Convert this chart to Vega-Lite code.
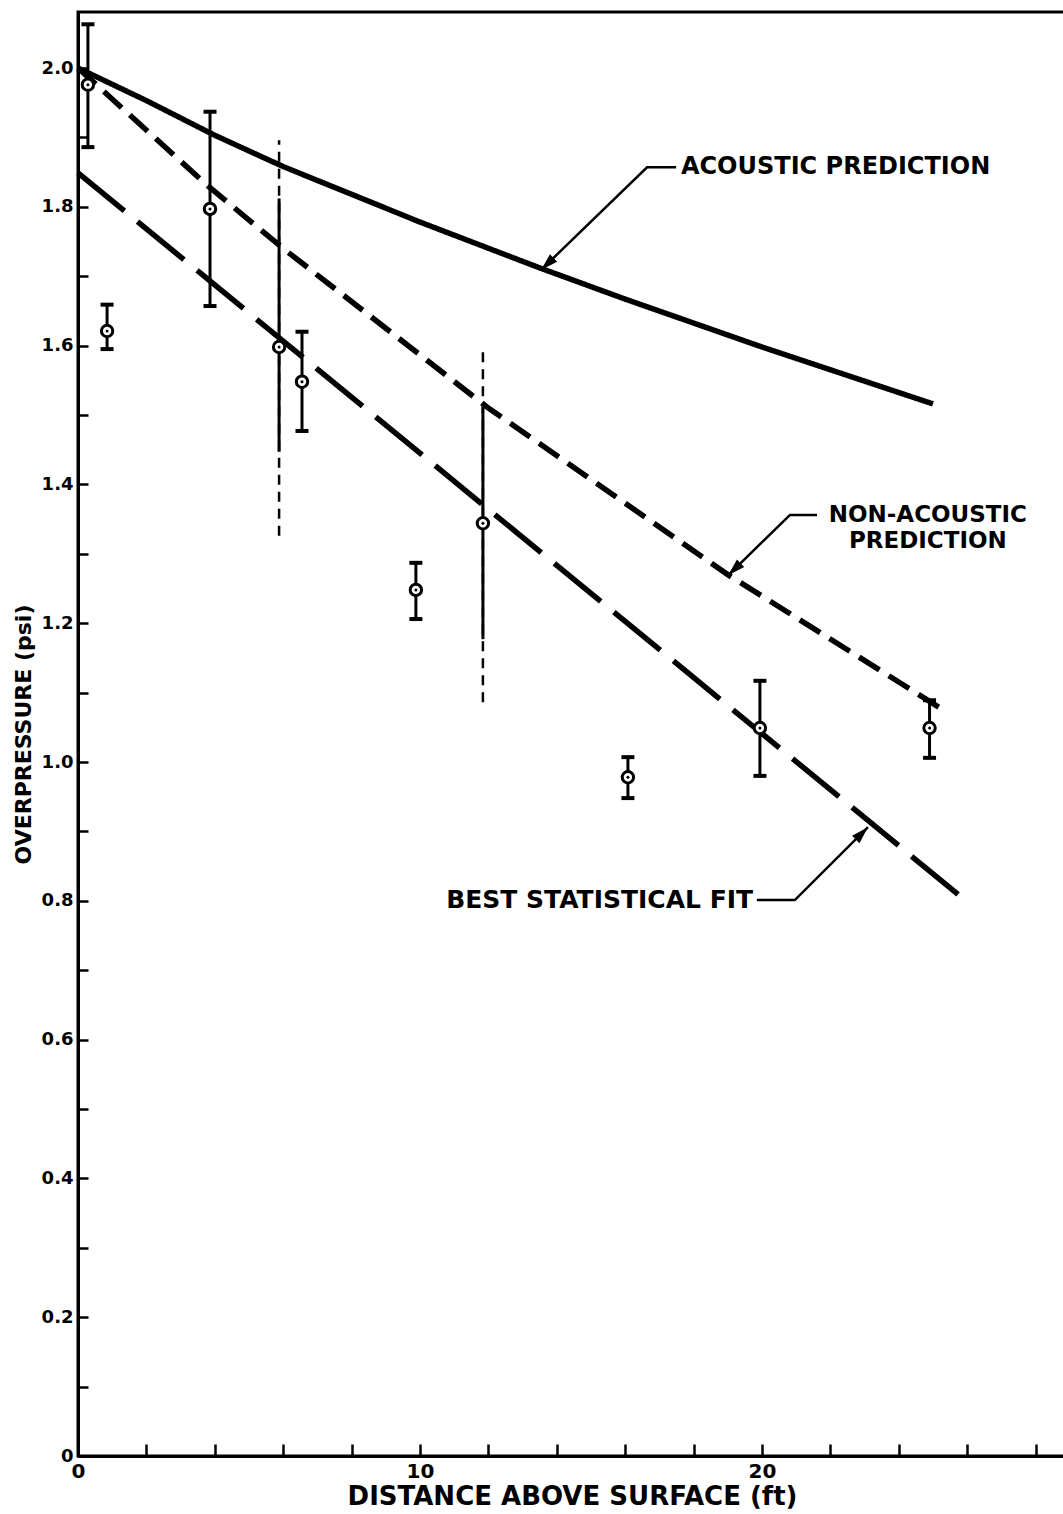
{
  "$schema": "https://vega.github.io/schema/vega-lite/v6.json",
  "width": 988,
  "height": 1444,
  "autosize": {"type": "none"},
  "padding": {"left": 78, "top": 12, "right": 0, "bottom": 58},
  "background": "white",
  "datasets": {
    "curves": [
      {"series": "acoustic", "x": 0, "y": 2.0},
      {"series": "acoustic", "x": 2, "y": 1.953},
      {"series": "acoustic", "x": 4, "y": 1.903},
      {"series": "acoustic", "x": 6, "y": 1.858},
      {"series": "acoustic", "x": 8, "y": 1.818},
      {"series": "acoustic", "x": 10, "y": 1.778},
      {"series": "acoustic", "x": 13.5, "y": 1.712},
      {"series": "acoustic", "x": 16, "y": 1.667},
      {"series": "acoustic", "x": 20, "y": 1.598},
      {"series": "acoustic", "x": 25, "y": 1.516},
      {"series": "non-acoustic", "x": 0, "y": 2.0},
      {"series": "non-acoustic", "x": 3.8, "y": 1.83},
      {"series": "non-acoustic", "x": 6, "y": 1.74},
      {"series": "non-acoustic", "x": 12, "y": 1.51},
      {"series": "non-acoustic", "x": 19, "y": 1.27},
      {"series": "non-acoustic", "x": 25.3, "y": 1.075},
      {"series": "best fit", "x": 0, "y": 1.849},
      {"series": "best fit", "x": 25.94, "y": 0.801}
    ],
    "obs": [
      {"x": 0.29, "y": 1.976, "lo": 1.886, "hi": 2.063},
      {"x": 0.85, "y": 1.621, "lo": 1.595, "hi": 1.659},
      {"x": 3.86, "y": 1.797, "lo": 1.657, "hi": 1.937},
      {"x": 5.88, "y": 1.598, "lo": 1.447, "hi": 1.812, "lo2": 1.326, "hi2": 1.896},
      {"x": 6.55, "y": 1.548, "lo": 1.477, "hi": 1.62},
      {"x": 9.88, "y": 1.248, "lo": 1.206, "hi": 1.287},
      {"x": 11.84, "y": 1.344, "lo": 1.177, "hi": 1.512, "lo2": 1.086, "hi2": 1.6},
      {"x": 16.08, "y": 0.978, "lo": 0.948, "hi": 1.007},
      {"x": 19.94, "y": 1.049, "lo": 0.98, "hi": 1.117},
      {"x": 24.9, "y": 1.049, "lo": 1.006, "hi": 1.089}
    ],
    "leaders": [
      {"note": "acoustic", "seq": 1, "x": 17.49, "y": 1.857},
      {"note": "acoustic", "seq": 2, "x": 16.64, "y": 1.857},
      {"note": "acoustic", "seq": 3, "x": 13.54, "y": 1.709},
      {"note": "nonacoustic", "seq": 1, "x": 21.61, "y": 1.356},
      {"note": "nonacoustic", "seq": 2, "x": 20.82, "y": 1.356},
      {"note": "nonacoustic", "seq": 3, "x": 19.01, "y": 1.269},
      {"note": "bestfit", "seq": 1, "x": 19.85, "y": 0.801},
      {"note": "bestfit", "seq": 2, "x": 20.96, "y": 0.801},
      {"note": "bestfit", "seq": 3, "x": 23.1, "y": 0.906}
    ],
    "notes": [
      {"note": "acoustic", "text": "ACOUSTIC PREDICTION", "x": 17.63, "y": 1.857},
      {"note": "nonacoustic", "text": "NON-ACOUSTIC", "x": 24.85, "y": 1.356},
      {"note": "nonacoustic", "text": "PREDICTION", "x": 24.85, "y": 1.318},
      {"note": "bestfit", "text": "BEST STATISTICAL FIT", "x": 19.74, "y": 0.801}
    ]
  },
  "layer": [
    {
      "data": {"name": "curves"},
      "mark": {"type": "line", "color": "black", "strokeWidth": 5.5, "strokeCap": "butt"},
      "encoding": {
        "x": {
          "field": "x", "type": "quantitative",
          "scale": {"domain": [0, 28.89], "nice": false, "zero": false},
          "axis": {
            "title": "DISTANCE ABOVE SURFACE (ft)",
            "values": [0, 2, 4, 6, 8, 10, 12, 14, 16, 18, 20, 22, 24, 26, 28],
            "format": "d",
            "labelExpr": "datum.value % 10 == 0 ? datum.label : ''",
            "labelFont": "DejaVu Sans",
            "labelFontWeight": "bold",
            "labelFontSize": 20,
            "tickSize": -12,
            "labelPadding": 17,
            "titleFont": "DejaVu Sans",
            "titleFontWeight": "bold",
            "titleFontSize": 26,
            "titlePadding": 2
          }
        },
        "y": {
          "field": "y", "type": "quantitative",
          "scale": {"domain": [0, 2.0807], "nice": false, "zero": false},
          "axis": {
            "title": "OVERPRESSURE (psi)",
            "values": [0, 0.1, 0.2, 0.3, 0.4, 0.5, 0.6, 0.7, 0.8, 0.9, 1.0, 1.1, 1.2, 1.3, 1.4, 1.5, 1.6, 1.7, 1.8, 1.9, 2.0],
            "labelExpr": "datum.value == 0 ? '0' : (round(datum.value * 10) % 2 == 0 ? format(datum.value, '.1f') : '')",
            "labelFont": "DejaVu Sans",
            "labelFontWeight": "bold",
            "labelFontSize": 18,
            "tickSize": -10,
            "labelPadding": 15,
            "titleFont": "DejaVu Sans",
            "titleFontWeight": "bold",
            "titleFontSize": 22,
            "titlePadding": 6
          }
        },
        "detail": {"field": "series"},
        "order": {"field": "x"},
        "strokeDash": {
          "field": "series", "type": "nominal",
          "scale": {"domain": ["acoustic", "non-acoustic", "best fit"], "range": [[1, 0], [24, 11], [60, 17]]},
          "legend": null
        }
      }
    },
    {
      "data": {"name": "leaders"},
      "mark": {"type": "line", "color": "black", "strokeWidth": 2.5},
      "encoding": {
        "x": {"field": "x", "type": "quantitative", "scale": {"domain": [0, 28.89], "nice": false, "zero": false}},
        "y": {"field": "y", "type": "quantitative", "scale": {"domain": [0, 2.0807], "nice": false, "zero": false}},
        "detail": {"field": "note"},
        "order": {"field": "seq"}
      }
    },
    {
      "data": {"name": "leaders"},
      "transform": [{"filter": "datum.seq == 3 && datum.note != 'bestfit'"}],
      "mark": {"type": "point", "shape": "M0,0L0.6,2L-0.6,2Z", "size": 300, "filled": true, "color": "black", "opacity": 1, "angle": 226},
      "encoding": {
        "x": {"field": "x", "type": "quantitative", "scale": {"domain": [0, 28.89], "nice": false, "zero": false}},
        "y": {"field": "y", "type": "quantitative", "scale": {"domain": [0, 2.0807], "nice": false, "zero": false}}
      }
    },
    {
      "data": {"name": "leaders"},
      "transform": [{"filter": "datum.seq == 3 && datum.note == 'bestfit'"}],
      "mark": {"type": "point", "shape": "M0,0L0.6,2L-0.6,2Z", "size": 300, "filled": true, "color": "black", "opacity": 1, "angle": 45},
      "encoding": {
        "x": {"field": "x", "type": "quantitative", "scale": {"domain": [0, 28.89], "nice": false, "zero": false}},
        "y": {"field": "y", "type": "quantitative", "scale": {"domain": [0, 2.0807], "nice": false, "zero": false}}
      }
    },
    {
      "data": {"name": "notes"},
      "transform": [{"filter": "datum.note == 'acoustic'"}],
      "mark": {"type": "text", "align": "left", "baseline": "middle", "font": "DejaVu Sans", "fontWeight": "bold", "fontSize": 24, "color": "black"},
      "encoding": {
        "x": {"field": "x", "type": "quantitative", "scale": {"domain": [0, 28.89], "nice": false, "zero": false}},
        "y": {"field": "y", "type": "quantitative", "scale": {"domain": [0, 2.0807], "nice": false, "zero": false}},
        "text": {"field": "text"}
      }
    },
    {
      "data": {"name": "notes"},
      "transform": [{"filter": "datum.note == 'nonacoustic'"}],
      "mark": {"type": "text", "align": "center", "baseline": "middle", "font": "DejaVu Sans", "fontWeight": "bold", "fontSize": 23, "color": "black"},
      "encoding": {
        "x": {"field": "x", "type": "quantitative", "scale": {"domain": [0, 28.89], "nice": false, "zero": false}},
        "y": {"field": "y", "type": "quantitative", "scale": {"domain": [0, 2.0807], "nice": false, "zero": false}},
        "text": {"field": "text"}
      }
    },
    {
      "data": {"name": "notes"},
      "transform": [{"filter": "datum.note == 'bestfit'"}],
      "mark": {"type": "text", "align": "right", "baseline": "middle", "font": "DejaVu Sans", "fontWeight": "bold", "fontSize": 25, "color": "black"},
      "encoding": {
        "x": {"field": "x", "type": "quantitative", "scale": {"domain": [0, 28.89], "nice": false, "zero": false}},
        "y": {"field": "y", "type": "quantitative", "scale": {"domain": [0, 2.0807], "nice": false, "zero": false}},
        "text": {"field": "text"}
      }
    },
    {
      "data": {"name": "obs"},
      "transform": [{"filter": "isValid(datum.lo2)"}],
      "mark": {"type": "rule", "color": "black", "strokeWidth": 2.5, "strokeDash": [10, 7]},
      "encoding": {
        "x": {"field": "x", "type": "quantitative", "scale": {"domain": [0, 28.89], "nice": false, "zero": false}},
        "y": {"field": "lo2", "type": "quantitative", "scale": {"domain": [0, 2.0807], "nice": false, "zero": false}},
        "y2": {"field": "hi2"}
      }
    },
    {
      "data": {"name": "obs"},
      "mark": {"type": "rule", "color": "black", "strokeWidth": 3},
      "encoding": {
        "x": {"field": "x", "type": "quantitative", "scale": {"domain": [0, 28.89], "nice": false, "zero": false}},
        "y": {"field": "lo", "type": "quantitative", "scale": {"domain": [0, 2.0807], "nice": false, "zero": false}},
        "y2": {"field": "hi"}
      }
    },
    {
      "data": {"name": "obs"},
      "transform": [
        {"filter": "!isValid(datum.lo2)"},
        {"fold": ["lo", "hi"], "as": ["end", "v"]}
      ],
      "mark": {"type": "tick", "orient": "horizontal", "color": "black", "size": 13, "thickness": 4, "opacity": 1},
      "encoding": {
        "x": {"field": "x", "type": "quantitative", "scale": {"domain": [0, 28.89], "nice": false, "zero": false}},
        "y": {"field": "v", "type": "quantitative", "scale": {"domain": [0, 2.0807], "nice": false, "zero": false}}
      }
    },
    {
      "data": {"name": "obs"},
      "mark": {"type": "point", "shape": "circle", "filled": false, "fill": "white", "fillOpacity": 1, "stroke": "black", "strokeWidth": 3, "size": 130, "opacity": 1},
      "encoding": {
        "x": {"field": "x", "type": "quantitative", "scale": {"domain": [0, 28.89], "nice": false, "zero": false}},
        "y": {"field": "y", "type": "quantitative", "scale": {"domain": [0, 2.0807], "nice": false, "zero": false}}
      }
    },
    {
      "data": {"name": "obs"},
      "mark": {"type": "point", "shape": "circle", "filled": true, "color": "black", "size": 9, "opacity": 1},
      "encoding": {
        "x": {"field": "x", "type": "quantitative", "scale": {"domain": [0, 28.89], "nice": false, "zero": false}},
        "y": {"field": "y", "type": "quantitative", "scale": {"domain": [0, 2.0807], "nice": false, "zero": false}}
      }
    }
  ],
  "config": {
    "view": {"stroke": "black", "strokeWidth": 3},
    "font": "DejaVu Sans",
    "axis": {
      "grid": false,
      "domainColor": "black",
      "domainWidth": 3,
      "tickColor": "black",
      "tickWidth": 2.5,
      "labelColor": "black",
      "labelFont": "DejaVu Sans",
      "labelFontWeight": "bold",
      "labelFontSize": 18,
      "labelOverlap": false,
      "labelFlush": false,
      "labelBound": false,
      "titleColor": "black",
      "titleFont": "DejaVu Sans",
      "titleFontWeight": "bold"
    }
  }
}
